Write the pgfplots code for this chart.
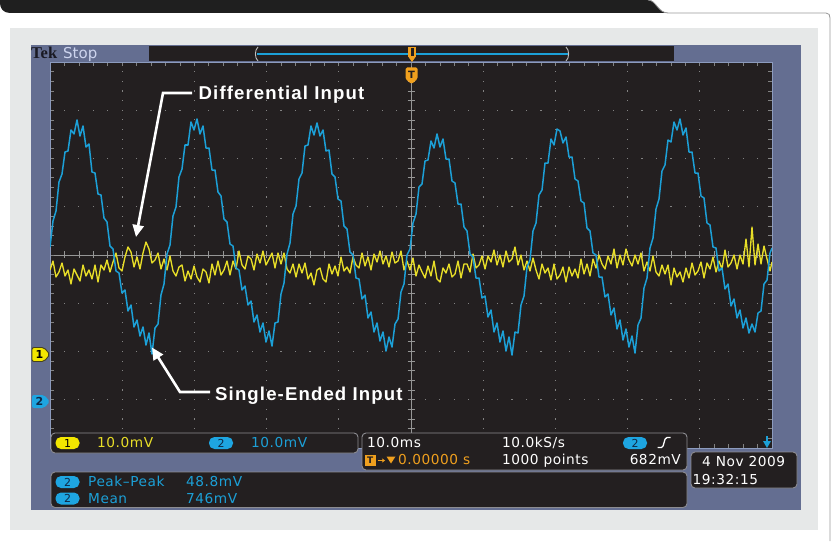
\documentclass[border=0pt]{standalone}
\usepackage{pgfplots}
\pgfplotsset{compat=1.18}
\usepackage{fontspec}
\usetikzlibrary{arrows.meta}
\setmainfont{DejaVu Sans}
\newfontfamily\scopefont[LetterSpace=4]{DejaVu Sans}
\newfontfamily\annfont[LetterSpace=6]{Liberation Sans}
\newfontfamily\tekfont{Liberation Serif}
\definecolor{frame}{RGB}{100,110,145}
\definecolor{panel}{RGB}{230,232,232}
\definecolor{screen}{RGB}{35,31,32}
\definecolor{griddot}{RGB}{130,130,130}
\definecolor{gridline}{RGB}{150,150,150}
\definecolor{scrborder}{RGB}{140,155,190}
\definecolor{ch1}{RGB}{232,222,40}
\definecolor{ch2}{RGB}{28,160,215}
\definecolor{ch1pill}{RGB}{242,230,0}
\definecolor{ch2pill}{RGB}{30,165,225}
\definecolor{trig}{RGB}{240,160,30}
\definecolor{boxline}{RGB}{140,140,145}
\definecolor{navy}{RGB}{15,40,70}
\definecolor{stopc}{RGB}{205,212,238}
\definecolor{mkoneb}{RGB}{70,65,30}
\definecolor{tekc}{RGB}{25,25,35}
\newcommand\sct{\scopefont\fontsize{13.7}{15}\selectfont}
\tikzset{pill/.style={rounded corners=5.5pt, minimum width=24pt, minimum height=12pt, inner sep=0pt, font=\scopefont\fontsize{11}{11}\selectfont}}
\begin{document}
\begin{tikzpicture}[x=1pt,y=1pt]
\path[use as bounding box, fill=white] (0,0) rectangle (832,541);
\begin{scope}[shift={(0,541)}, yscale=-1]
  % top band
  \fill[black!88] (0,0) -- (648,0) .. controls (656,0) and (658,13) .. (668,13) -- (10,13) .. controls (3,13) and (0,8) .. (0,3) -- cycle;
  \draw[black!40, line width=0.8] (648,0) .. controls (656,0) and (658,13) .. (668,13) -- (826,13) .. controls (829,13) and (830,15) .. (830,18) -- (830,541);
  % panel and frame
  \fill[panel] (10,28) rectangle (818,530);
  \fill[frame] (31,45) rectangle (801,510);
  % record bar
  \fill[screen] (149,46) rectangle (674,61);
  \draw[ch2, line width=2] (257,54) -- (568,54);
  \draw[black!25, line width=0.9] (258,47) .. controls (254.5,50) and (254.5,58) .. (258,61);
  \draw[black!25, line width=0.9] (566,47) .. controls (569.5,50) and (569.5,58) .. (566,61);
  % screen
  \fill[screen] (50,62) rectangle (772,448);
  \foreach \k in {1,2,3,4,6,7,8,9} {
    \foreach \m in {1,...,39} {
      \fill[griddot] ({50+72.2*\k-0.6},{62+9.65*\m-0.6}) rectangle ++(1.2,1.2);
    }
  }
  \foreach \k in {1,2,3,5,6,7} {
    \foreach \m in {1,...,49} {
      \fill[griddot] ({50+14.44*\m-0.6},{62+48.25*\k-0.6}) rectangle ++(1.2,1.2);
    }
  }
  \draw[gridline, line width=0.8] (50,255) -- (772,255);
  \draw[gridline, line width=0.8] (411,62) -- (411,448);
  \foreach \m in {1,...,49} {
    \draw[gridline, line width=0.7] ({50+14.44*\m},251.5) -- ++(0,7);
    \draw[griddot, line width=0.7] ({50+14.44*\m},62) -- ++(0,4);
    \draw[griddot, line width=0.7] ({50+14.44*\m},448) -- ++(0,-4);
  }
  \foreach \m in {1,...,39} {
    \draw[gridline, line width=0.7] (407.5,{62+9.65*\m}) -- ++(7,0);
    \draw[griddot, line width=0.7] (50,{62+9.65*\m}) -- ++(4,0);
    \draw[griddot, line width=0.7] (772,{62+9.65*\m}) -- ++(-4,0);
  }
  \draw[scrborder, line width=0.9] (50,62) rectangle (772,448);
\end{scope}

\begin{axis}[at={(50pt,93pt)}, anchor=south west, scale only axis,
  width=722pt, height=386pt, xmin=50, xmax=772, ymin=62, ymax=448,
  y dir=reverse, hide axis, clip=true]
\addplot[ch1, line width=1.35pt, no markers, line join=round] coordinates {
(50,270) (53,261) (56,277) (59,272) (62,263) (65,276) (68,270) (71,284) (74,269) (77,275)
(80,281) (83,265) (86,276) (89,270) (92,279) (95,265) (98,282) (101,265) (104,270) (107,260)
(110,272) (113,262) (116,253) (119,268) (122,271) (125,257) (128,247) (131,252) (134,267) (137,257)
(140,269) (143,253) (146,242) (149,249) (152,263) (155,260) (158,253) (161,269) (164,259) (167,270)
(170,256) (173,271) (176,276) (179,267) (182,265) (185,281) (188,271) (191,279) (194,266) (197,277)
(200,282) (203,269) (206,272) (209,283) (212,264) (215,275) (218,261) (221,275) (224,270) (227,261)
(230,275) (233,261) (236,269) (239,251) (242,265) (245,269) (248,256) (251,259) (254,270) (257,254)
(260,263) (263,251) (266,265) (269,259) (272,253) (275,268) (278,253) (281,264) (284,253) (287,269)
(290,273) (293,264) (296,277) (299,264) (302,273) (305,263) (308,279) (311,273) (314,285) (317,270)
(320,268) (323,279) (326,282) (329,264) (332,274) (335,266) (338,276) (341,257) (344,271) (347,267)
(350,273) (353,257) (356,265) (359,268) (362,253) (365,266) (368,257) (371,270) (374,254) (377,262)
(380,251) (383,264) (386,256) (389,267) (392,252) (395,263) (398,261) (401,251) (404,270) (407,261)
(410,270) (413,258) (416,276) (419,265) (422,272) (425,278) (428,266) (431,276) (434,261) (437,279)
(440,282) (443,268) (446,273) (449,264) (452,277) (455,274) (458,261) (461,278) (464,264) (467,264)
(470,272) (473,254) (476,268) (479,265) (482,256) (485,269) (488,256) (491,262) (494,250) (497,265)
(500,255) (503,267) (506,251) (509,262) (512,259) (515,247) (518,265) (521,255) (524,270) (527,261)
(530,271) (533,258) (536,270) (539,279) (542,264) (545,273) (548,268) (551,280) (554,264) (557,279)
(560,275) (563,267) (566,282) (569,267) (572,276) (575,269) (578,278) (581,259) (584,274) (587,264)
(590,276) (593,259) (596,268) (599,255) (602,264) (605,269) (608,256) (611,264) (614,249) (617,268)
(620,255) (623,265) (626,249) (629,260) (632,266) (635,255) (638,264) (641,253) (644,271) (647,262)
(650,271) (653,256) (656,272) (659,276) (662,265) (665,274) (668,265) (671,285) (674,268) (677,277)
(680,272) (683,282) (686,268) (689,278) (692,263) (695,275) (698,271) (701,262) (704,278) (707,263)
(710,269) (713,257) (716,272) (719,261) (722,269) (725,250) (728,267) (731,263) (734,255) (737,269)
(740,255) (743,264) (746,239) (749,267) (752,227) (755,265) (758,244) (761,264) (764,246) (767,259)
(770,271) (772,262)
};
\addplot[ch2, line width=1.5pt, no markers, line join=round] coordinates {
(50,247) (53,221) (56,211) (59,182) (62,174) (65,152) (68,151) (71,130) (74,134) (77,120)
(80,136) (83,126) (86,147) (89,144) (92,172) (95,173) (98,194) (101,195) (104,218) (107,222)
(110,246) (113,249) (116,271) (119,273) (122,293) (125,290) (128,311) (131,305) (134,327) (137,320)
(140,336) (143,327) (146,345) (149,333) (152,354)
(155,328) (158,324) (161,295) (164,284) (167,254) (170,245) (173,216) (176,207) (179,177) (182,169)
(185,145) (188,145) (191,122) (194,130) (197,119)
(200,134) (203,126) (206,148) (209,148) (212,170) (215,170) (218,192) (221,196) (224,219) (227,222)
(230,244) (233,246) (236,268) (239,270) (242,290) (245,286) (248,305) (251,301) (254,322) (257,315)
(260,332) (263,323) (266,342) (269,331) (272,346)
(275,323) (278,322) (281,294) (284,283) (287,254) (290,243) (293,214) (296,206) (299,179) (302,173)
(305,146) (308,145) (311,126) (314,135) (317,123)
(320,136) (323,130) (326,151) (329,150) (332,174) (335,177) (338,199) (341,201) (344,226) (347,229)
(350,252) (353,255) (356,278) (359,279) (362,299) (365,295) (368,318) (371,312) (374,332) (377,323)
(380,341) (383,332) (386,351) (389,337)
(392,347) (395,324) (398,319) (401,292) (404,284) (407,255) (410,249) (413,223) (416,214) (419,187)
(422,184) (425,161) (428,160) (431,141) (434,148) (437,134)
(440,147) (443,139) (446,159) (449,159) (452,181) (455,183) (458,204) (461,204) (464,227) (467,231)
(470,254) (473,257) (476,278) (479,278) (482,298) (485,296) (488,317) (491,310) (494,332) (497,323)
(500,342) (503,331) (506,351) (509,337) (512,355)
(515,332) (518,333) (521,305) (524,296) (527,267) (530,260) (533,231) (536,223) (539,195) (542,190)
(545,163) (548,163) (551,139) (554,145) (557,129) (560,131)
(563,143) (566,137) (569,157) (572,157) (575,179) (578,181) (581,201) (584,203) (587,228) (590,231)
(593,253) (596,255) (599,277) (602,277) (605,297) (608,294) (611,315) (614,308) (617,329) (620,320)
(623,340) (626,329) (629,347) (632,336)
(635,353) (638,325) (641,318) (644,288) (647,278) (650,248) (653,238) (656,209) (659,199) (662,171)
(665,165) (668,140) (671,142) (674,122) (677,130)
(680,119) (683,135) (686,128) (689,152) (692,152) (695,173) (698,173) (701,196) (704,198) (707,223)
(710,225) (713,247) (716,248) (719,271) (722,268) (725,289) (728,284) (731,306) (734,299) (737,318)
(740,310) (743,328) (746,318) (749,333) (752,324)
(755,332) (758,313) (761,311) (764,284) (767,280) (770,253) (772,248)
};
\end{axis}

\begin{scope}[shift={(0,541)}, yscale=-1]
  % Tek Stop
  \node[anchor=base west, inner sep=0, text=tekc, font=\tekfont\bfseries\fontsize{16.5}{17}\selectfont] at (31,59) {Tek};
  \node[anchor=base west, inner sep=0, text=stopc, font=\fontsize{15}{16}\selectfont] at (63,59) {Stop};
  % trigger markers
  \fill[trig] (408,47) rectangle (416,57);
  \fill[screen] (410.5,48.5) rectangle (413.5,56);
  \fill[trig] (408.5,57) -- (415.5,57) -- (412,62) -- cycle;
  \fill[trig, rounded corners=1.5] (405.5,67.5) -- (417.5,67.5) -- (417.5,79) -- (411.5,84) -- (405.5,79) -- cycle;
  \node[inner sep=0, text=screen, font=\bfseries\fontsize{10}{10}\selectfont] at (411.5,74.5) {T};
  % blue position arrow
  \draw[ch2, line width=1.2] (767,436) -- (767,442);
  \fill[ch2] (763,441) -- (771,441) -- (767,448) -- cycle;
  % channel markers
  \filldraw[fill=ch1pill, draw=mkoneb, line width=0.9, rounded corners=2] (32,347.5) -- (44,347.5) -- (50,354.5) -- (44,361.5) -- (32,361.5) -- cycle;
  \node[inner sep=0, text=black, font=\bfseries\fontsize{11}{11}\selectfont] at (39.5,354.5) {1};
  \fill[ch2pill, rounded corners=2] (32,395) -- (44,395) -- (50,401.5) -- (44,408) -- (32,408) -- cycle;
  \node[inner sep=0, text=navy, font=\bfseries\fontsize{11}{11}\selectfont] at (39.5,401.5) {2};
  % box A
  \draw[boxline, fill=screen, rounded corners=4, line width=0.9] (51,433) rectangle (358,453);
  \node[pill, fill=ch1pill, text=black] at (67.5,443) {1};
  \node[anchor=base west, inner sep=0, text=ch1, font=\sct] at (97,447.5) {10.0mV};
  \node[pill, fill=ch2pill, text=navy] at (221,443) {2};
  \node[anchor=base west, inner sep=0, text=ch2, font=\sct] at (251,447.5) {10.0mV};
  % box B
  \draw[boxline, fill=screen, rounded corners=4, line width=0.9] (362,433) rectangle (687,470);
  \node[anchor=base west, inner sep=0, text=white, font=\sct] at (367,447.5) {10.0ms};
  \node[anchor=base west, inner sep=0, text=white, font=\sct] at (502,447.5) {10.0kS/s};
  \node[pill, fill=ch2pill, text=navy] at (635,443) {2};
  \draw[white, line width=1.3] (657.5,447.5) -- (661.5,447.5) .. controls (664.5,447.5) and (663.5,437.5) .. (667,437.5) -- (670.5,437.5);
  \fill[trig] (364.5,455) rectangle (376,466);
  \node[inner sep=0, text=screen, font=\bfseries\fontsize{9}{9}\selectfont] at (370.2,460.5) {T};
  \draw[trig, line width=1, -{Stealth[length=3pt,width=4pt]}] (377.5,460.5) -- (385,460.5);
  \fill[trig] (386.5,456.5) -- (395.5,456.5) -- (391,463.5) -- cycle;
  \node[anchor=base west, inner sep=0, text=trig, font=\sct] at (398,464.5) {0.00000 s};
  \node[anchor=base west, inner sep=0, text=white, font=\sct] at (502,464.5) {1000 points};
  \node[anchor=base east, inner sep=0, text=white, font=\sct] at (681,464.5) {682mV};
  % box C
  \draw[boxline, fill=screen, rounded corners=4, line width=0.9] (51,472) rectangle (687,507.5);
  \node[pill, fill=ch2pill, text=navy] at (67.5,482) {2};
  \node[anchor=base west, inner sep=0, text=ch2, font=\sct] at (88,486.7) {Peak\textendash Peak};
  \node[anchor=base west, inner sep=0, text=ch2, font=\sct] at (186,486.7) {48.8mV};
  \node[pill, fill=ch2pill, text=navy] at (67.5,498.5) {2};
  \node[anchor=base west, inner sep=0, text=ch2, font=\sct] at (88,503.3) {Mean};
  \node[anchor=base west, inner sep=0, text=ch2, font=\sct] at (186,503.3) {746mV};
  % date box
  \draw[boxline, fill=screen, rounded corners=4, line width=0.9] (691,452) rectangle (797,488);
  \node[anchor=base west, inner sep=0, text=white, font=\sct] at (702,466.7) {4 Nov 2009};
  \node[anchor=base west, inner sep=0, text=white, font=\sct] at (692.5,484.3) {19:32:15};
  % annotations
  \draw[white, line width=2.6, -{Triangle[length=12pt,width=11pt]}] (192,93) -- (163,93) -- (136,237);
  \node[anchor=base west, inner sep=0, text=white, font=\annfont\bfseries\fontsize{18.6}{20}\selectfont] at (198.5,99.3) {Differential Input};
  \draw[white, line width=2.6, -{Triangle[length=12pt,width=11pt]}] (210,392) -- (180,392) -- (152,347.5);
  \node[anchor=base west, inner sep=0, text=white, font=\annfont\bfseries\fontsize{18.6}{20}\selectfont] at (215,400.5) {Single-Ended Input};
\end{scope}
\end{tikzpicture}
\end{document}
